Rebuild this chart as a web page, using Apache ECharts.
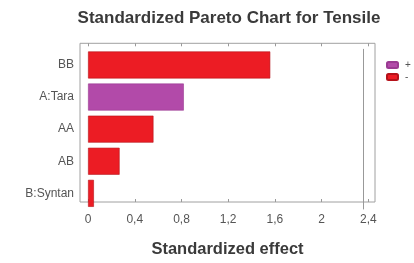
<!DOCTYPE html>
<html>
<head>
<meta charset="utf-8">
<script src="https://cdn.jsdelivr.net/npm/echarts@6/dist/echarts.min.js"></script>
<style>
  html, body { margin: 0; padding: 0; background: #fff; }
  #chart { width: 414px; height: 263px; }
</style>
</head>
<body>
<div id="chart"></div>
<script>
// 数据
const factors = ['B:Syntan', 'AB', 'AA', 'A:Tara', 'BB'];
const effects = [0.05, 0.27, 0.56, 0.82, 1.56];
const signs = ['-', '-', '-', '+', '-'];
const xTicks = [0, 0.4, 0.8, 1.2, 1.6, 2, 2.4];
const critLine = 2.36;

const xMin = -0.069, xMax = 2.457;
const fmt = v => String(v).replace('.', ',');

let chart = echarts.init(document.getElementById('chart'));
chart.setOption({
    animation: false,
    title: {
        text: 'Standardized Pareto Chart for Tensile',
        left: 229, top: 10, textAlign: 'center', padding: 0,
        textStyle: { fontFamily: 'Liberation Sans', fontSize: 17, fontWeight: 'bold', color: '#3a3a3a' }
    },
    legend: {
        orient: 'vertical', left: 386, top: 60, padding: 0,
        itemWidth: 11, itemHeight: 6, itemGap: 2,
        textStyle: { fontSize: 10, color: '#555', padding: [0, 0, 0, 2] },
        data: ['+', '-']
    },
    grid: [
        // 柱子区域
        { left: 80, right: 39, top: 48.9, bottom: 53.6 },
        // 外框
        { left: 80, right: 39, top: 43.3, bottom: 49, show: true, borderColor: '#a0a0a0', borderWidth: 1 }
    ],
    xAxis: [
        { gridIndex: 0, type: 'value', min: xMin, max: xMax, show: false },
        {
            gridIndex: 1, type: 'value', min: xMin, max: xMax, position: 'bottom',
            name: 'Standardized effect', nameLocation: 'middle', nameGap: 39,
            nameTextStyle: { fontFamily: 'Liberation Sans', fontSize: 16.5, fontWeight: 'bold', color: '#3a3a3a' },
            axisLine: { show: false },
            splitLine: { show: false },
            axisTick: { inside: true, length: 3, customValues: xTicks, lineStyle: { color: '#999' } },
            axisLabel: { customValues: xTicks, formatter: fmt, fontFamily: 'Liberation Sans', fontSize: 12, color: '#555', margin: 12 }
        },
        {
            gridIndex: 1, type: 'value', min: xMin, max: xMax, position: 'top',
            axisLine: { show: false }, splitLine: { show: false },
            axisTick: { inside: true, length: 3, customValues: xTicks, lineStyle: { color: '#999' } },
            axisLabel: { show: false }
        }
    ],
    yAxis: [
        {
            gridIndex: 0, type: 'category', data: factors,
            axisLine: { show: false }, axisTick: { show: false },
            axisLabel: { fontFamily: 'Liberation Sans', fontSize: 12, color: '#555', margin: 6 }
        },
        { gridIndex: 1, type: 'value', show: false }
    ],
    series: [
        {
            name: '+', type: 'bar', stack: 'e', barWidth: 27,
            xAxisIndex: 0, yAxisIndex: 0,
            itemStyle: { color: '#b24aa9', borderColor: '#9a3a92', borderWidth: 0.6 },
            data: effects.map((v, i) => signs[i] === '+' ? v : null)
        },
        {
            name: '-', type: 'bar', stack: 'e', barWidth: 27,
            xAxisIndex: 0, yAxisIndex: 0,
            itemStyle: { color: '#ec1c24', borderColor: '#b5121a', borderWidth: 0.6 },
            data: effects.map((v, i) => signs[i] === '-' ? v : null),
            markLine: {
                silent: true, symbol: 'none', label: { show: false },
                lineStyle: { color: '#999', type: 'solid', width: 1 },
                data: [{ xAxis: critLine }]
            }
        }
    ]
});
</script>
</body>
</html>
